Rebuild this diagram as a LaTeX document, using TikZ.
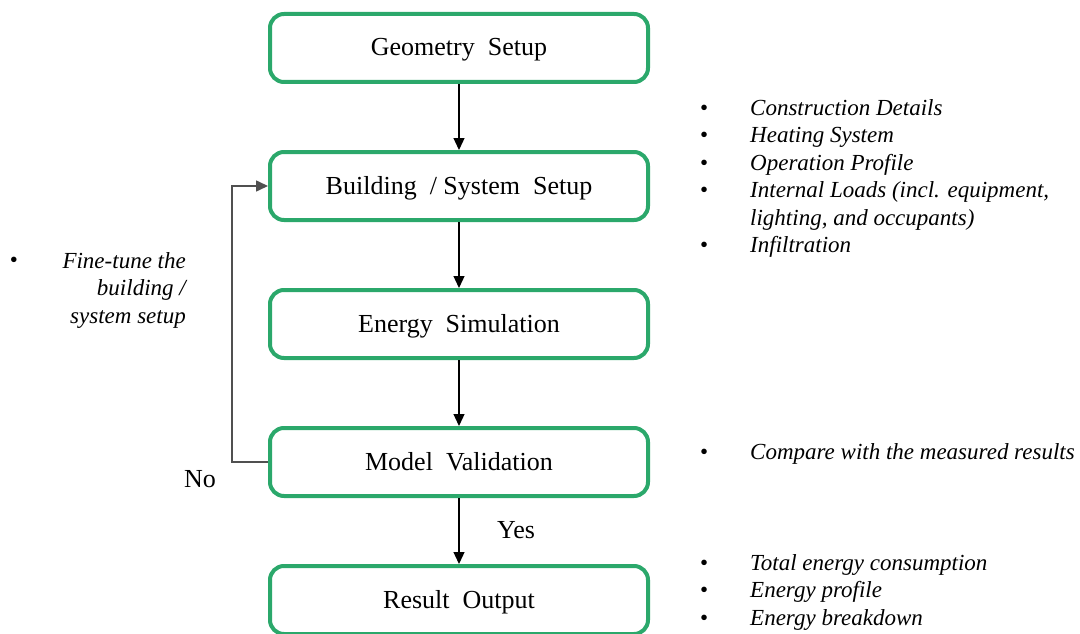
\documentclass[tikz,border=0pt]{standalone}
\usepackage{fontspec}
\setmainfont{Liberation Serif}
\usetikzlibrary{positioning,arrows.meta}

\definecolor{stagegreen}{RGB}{43,168,107}
\definecolor{loopgray}{RGB}{80,80,80}

\tikzset{
	stage/.style={draw=stagegreen, line width=4pt, rounded corners=14pt, fill=white,
		minimum width=378pt, minimum height=68pt, text height=18pt, text depth=2pt,
		font=\fontsize{26}{30}\selectfont},
	note/.style={font=\fontsize{23}{27.5}\selectfont\itshape, inner sep=0pt},
	answer/.style={font=\fontsize{26}{30}\selectfont},
	bulletlist/.style={font=\fontsize{23}{27.5}\selectfont, inner sep=0pt, anchor=north west}
}

\begin{document}
\begin{tikzpicture}[x=1pt,y=-1pt,node distance=138pt,on grid,>={Triangle[length=12pt,width=11pt]}]
	\useasboundingbox[fill=white] (0,0) rectangle (1080,634);
	% main flow
	\node[stage] (geo) at (459,48) {Geometry\ \ Setup};
	\node[stage] (build) [below=of geo] {Building\ \ / System\ \ Setup};
	\node[stage] (sim) [below=of build] {Energy\ \ Simulation};
	\node[stage] (valid) [below=of sim] {Model\ \ Validation};
	\node[stage] (result) [below=of valid] {Result\ \ Output};
	\path[->, line width=1.3pt]
	(geo) edge (build)
	(build) edge (sim)
	(sim) edge (valid)
	(valid) edge (result);
	% loop back when the check fails
	\coordinate (back) at ([xshift=-36pt]valid.west);
	\draw[->, loopgray, line width=1.6pt] (valid.west) -- (back) |- (build.west);
	\node[answer] (no) at (200,479) {No};
	\node[answer] (yes) at (516,530) {Yes};
	% side notes
	\node[bulletlist] (setupnotes) at (700,96) {%
		\begin{tabular}{@{}p{50pt}@{}l@{}}
		• & \itshape Construction Details\\
		• & \itshape Heating System\\
		• & \itshape Operation Profile\\
		• & \itshape Internal Loads (incl. equipment,\\
		  & \itshape lighting, and occupants)\\
		• & \itshape Infiltration
		\end{tabular}};
	\node[bulletlist] (validnotes) at (700,440) {%
		\begin{tabular}{@{}p{50pt}@{}l@{}}
		• & \itshape Compare with the measured results
		\end{tabular}};
	\node[bulletlist] (resultnotes) at (700,551) {%
		\begin{tabular}{@{}p{50pt}@{}l@{}}
		• & \itshape Total energy consumption\\
		• & \itshape Energy profile\\
		• & \itshape Energy breakdown
		\end{tabular}};
	\node[note, font=\fontsize{23}{27.5}\selectfont] (tunedot) at (14,262) {•};
	\node[note, align=right, anchor=north east] (tune) at (186,252)
		{Fine-tune the\\building /\\system setup};
\end{tikzpicture}
\end{document}
